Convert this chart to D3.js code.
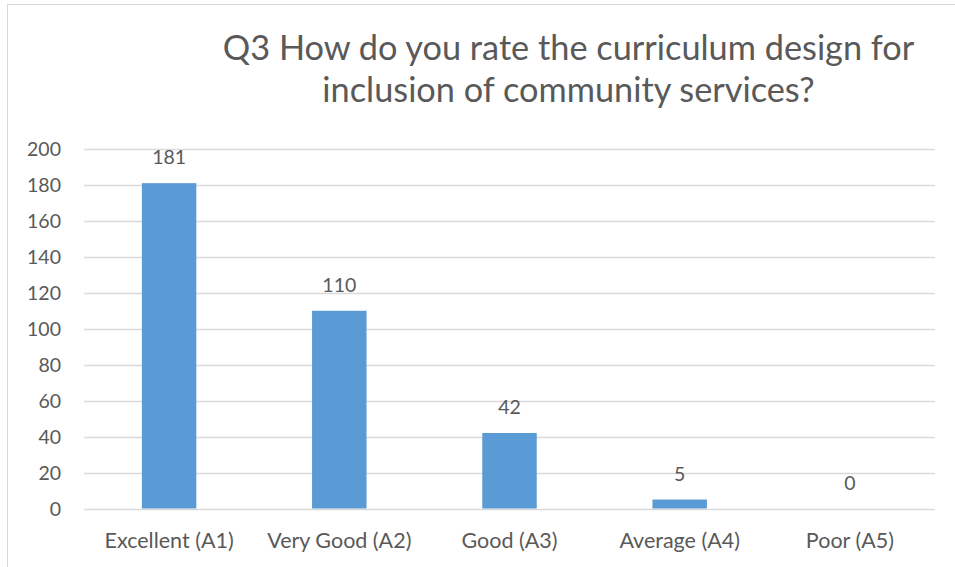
<!DOCTYPE html>
<html><head><meta charset="utf-8">
<script src="https://cdn.jsdelivr.net/npm/d3@7"></script>
<style>body{margin:0;background:#fff}svg text{font-family:Lato,"Open Sans",sans-serif;fill:#595959}</style>
</head><body><svg id="c" width="955" height="567"></svg>
<script>
const categories = ["Excellent (A1)","Very Good (A2)","Good (A3)","Average (A4)","Poor (A5)"];
const values = [181,110,42,5,0];
const yTicks = [0,20,40,60,80,100,120,140,160,180,200];
const titleLines = ["Q3 How do you rate the curriculum design for","inclusion of community services?"];

const svg = d3.select("#c");
svg.append("rect").attr("x",7.5).attr("y",4.5).attr("width",1000).attr("height",600)
  .attr("fill","none").attr("stroke","#d9d9d9").attr("stroke-width",1);

const m = {l:84,r:935,t:149,b:508.5};
const x = d3.scaleBand().domain(categories).range([m.l,m.r]).paddingInner(0.68).paddingOuter(0.34);
const y = d3.scaleLinear().domain([0,200]).range([m.b,m.t]);

svg.append("g").selectAll("line").data(yTicks).join("line")
  .attr("x1",m.l).attr("x2",m.r).attr("y1",d=>Math.round(y(d))+0.5).attr("y2",d=>Math.round(y(d))+0.5)
  .attr("stroke","#d9d9d9").attr("stroke-width",1.3);

svg.append("g").selectAll("text").data(yTicks).join("text")
  .attr("x",61).attr("y",d=>y(d)+7).attr("text-anchor","end").attr("font-size",19.5).text(d=>d);

svg.append("g").selectAll("rect").data(values).join("rect")
  .attr("x",(d,i)=>x(categories[i])).attr("width",x.bandwidth())
  .attr("y",d=>y(d)).attr("height",d=>y(0)-y(d)).attr("fill","#5b9bd5");

svg.append("g").selectAll("text").data(values).join("text")
  .attr("x",(d,i)=>x(categories[i])+x.bandwidth()/2).attr("y",d=>y(d)-19)
  .attr("text-anchor","middle").attr("font-size",19.5).text(d=>d);

svg.append("g").selectAll("text").data(categories).join("text")
  .attr("x",d=>x(d)+x.bandwidth()/2).attr("y",548)
  .attr("text-anchor","middle").attr("font-size",21.5).text(d=>d);

svg.append("g").selectAll("text").data(titleLines).join("text")
  .attr("x",568.5).attr("y",(d,i)=>60+i*41.5)
  .attr("text-anchor","middle").attr("font-size",34.3).text(d=>d);
</script></body></html>
